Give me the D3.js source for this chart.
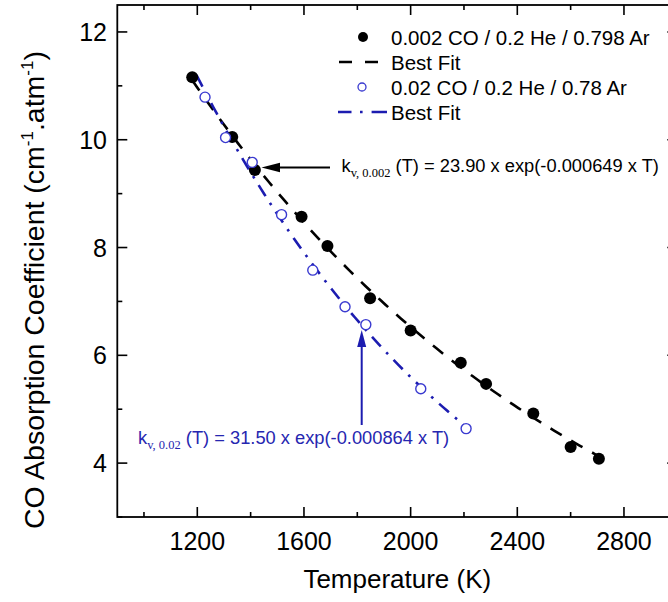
<!DOCTYPE html>
<html>
<head>
<meta charset="utf-8">
<script src="https://cdn.jsdelivr.net/npm/d3@7/dist/d3.min.js"></script>
<style>
  html, body { margin: 0; padding: 0; background: #fff; }
  svg { display: block; overflow: hidden; }
  text { font-family: "Liberation Sans", Arial, sans-serif; }
</style>
</head>
<body>
<script>
// ---------- data ----------
const tempLow = [1181, 1331, 1416, 1591, 1688, 1848, 2000, 2188, 2283, 2460, 2600, 2706];
const kLow    = [11.16, 10.05, 9.44, 8.57, 8.03, 7.06, 6.46, 5.86, 5.47, 4.92, 4.30, 4.08];
const tempHigh = [1229, 1306, 1406, 1516, 1633, 1754, 1832, 2038, 2208];
const kHigh    = [10.79, 10.04, 9.58, 8.61, 7.58, 6.90, 6.57, 5.38, 4.64];
// best-fit equations printed on the chart: k = A * exp(-B * T)
const fitLow  = [23.90, 0.000649];
const fitHigh = [31.50, 0.000864];
const fitLowRange  = [1180, 2710];
const fitHighRange = [1197, 2210];
const xTicks = [1200, 1600, 2000, 2400, 2800];
const xMinor = [1000, 1400, 1800, 2200, 2600, 3000];
const yTicks = [4, 6, 8, 10, 12];
const yMinor = [3, 5, 7, 9, 11];
const legendLabels = ["0.002 CO / 0.2 He / 0.798 Ar", "Best Fit", "0.02 CO / 0.2 He / 0.78 Ar", "Best Fit"];

// ---------- layout ----------
const W = 668, H = 602;
const L = 117.3, R = 677.3, T = 5, B = 517;
const blueLine = "#1c1cb0", blueMark = "#3a3ad0", blueText = "#2626b0";

const svg = d3.select("body").append("svg").attr("width", W).attr("height", H);

const x = d3.scaleLinear().domain([900, 3000]).range([L, R]);
const y = d3.scaleLinear().domain([3, 12.5]).range([B, T]);

// fit curves
function fitPoints(p, range) {
  const pts = [];
  const n = 80;
  for (let i = 0; i <= n; i++) {
    const t = range[0] + (range[1] - range[0]) * i / n;
    pts.push([t, p[0] * Math.exp(-p[1] * t)]);
  }
  return pts;
}
const line = d3.line().x(d => x(d[0])).y(d => y(d[1]));

svg.append("path").datum(fitPoints(fitLow, fitLowRange))
  .attr("d", line).attr("fill", "none").attr("stroke", "#000")
  .attr("stroke-width", 2.6).attr("stroke-dasharray", "13,11");
svg.append("path").datum(fitPoints(fitHigh, fitHighRange))
  .attr("d", line).attr("fill", "none").attr("stroke", blueLine)
  .attr("stroke-width", 2.6).attr("stroke-dasharray", "13,8,2.6,8");

// points
svg.append("g").selectAll("circle").data(tempLow.map((t, i) => [t, kLow[i]]))
  .join("circle").attr("cx", d => x(d[0])).attr("cy", d => y(d[1]))
  .attr("r", 6).attr("fill", "#000");
svg.append("g").selectAll("circle").data(tempHigh.map((t, i) => [t, kHigh[i]]))
  .join("circle").attr("cx", d => x(d[0])).attr("cy", d => y(d[1]))
  .attr("r", 5).attr("fill", "#fff").attr("stroke", blueMark).attr("stroke-width", 1.4);

// axes frame
const axisG = svg.append("g").attr("stroke", "#000").attr("stroke-width", 1.8);
axisG.append("rect").attr("x", L).attr("y", T).attr("width", R - L).attr("height", B - T).attr("fill", "none");

// ticks (inward, all four sides)
const tk = svg.append("g").attr("stroke", "#000").attr("stroke-width", 1.6);
xTicks.forEach(v => {
  tk.append("line").attr("x1", x(v)).attr("x2", x(v)).attr("y1", B).attr("y2", B - 10);
  tk.append("line").attr("x1", x(v)).attr("x2", x(v)).attr("y1", T).attr("y2", T + 10);
});
xMinor.forEach(v => {
  tk.append("line").attr("x1", x(v)).attr("x2", x(v)).attr("y1", B).attr("y2", B - 5);
  tk.append("line").attr("x1", x(v)).attr("x2", x(v)).attr("y1", T).attr("y2", T + 5);
});
yTicks.forEach(v => {
  tk.append("line").attr("x1", L).attr("x2", L + 10).attr("y1", y(v)).attr("y2", y(v));
  tk.append("line").attr("x1", R).attr("x2", R - 10).attr("y1", y(v)).attr("y2", y(v));
});
yMinor.forEach(v => {
  tk.append("line").attr("x1", L).attr("x2", L + 5).attr("y1", y(v)).attr("y2", y(v));
  tk.append("line").attr("x1", R).attr("x2", R - 5).attr("y1", y(v)).attr("y2", y(v));
});

// tick labels
svg.append("g").selectAll("text").data(xTicks).join("text")
  .attr("x", d => x(d)).attr("y", 550).attr("text-anchor", "middle")
  .attr("font-size", 25).attr("fill", "#000").text(d => d);
svg.append("g").selectAll("text").data(yTicks).join("text")
  .attr("x", 107).attr("y", d => y(d) + 9).attr("text-anchor", "end")
  .attr("font-size", 25).attr("fill", "#000").text(d => d);

// axis titles
svg.append("text").attr("x", (L + R) / 2).attr("y", 588).attr("text-anchor", "middle")
  .attr("font-size", 26).attr("fill", "#000").text("Temperature (K)");
const yt = svg.append("text").attr("transform", "translate(44,290) rotate(-90)")
  .attr("text-anchor", "middle").attr("font-size", 28.5).attr("fill", "#000");
yt.append("tspan").text("CO Absorption Coefficient (cm");
yt.append("tspan").attr("font-size", 17).attr("dy", -11).text("-1");
yt.append("tspan").attr("dy", 11).text(".atm");
yt.append("tspan").attr("font-size", 17).attr("dy", -11).text("-1");
yt.append("tspan").attr("dy", 11).text(")");

// legend
const lg = svg.append("g");
const rowY = [37, 62, 87, 112];
lg.append("circle").attr("cx", 363).attr("cy", rowY[0]).attr("r", 5).attr("fill", "#000");
lg.append("line").attr("x1", 339).attr("x2", 379).attr("y1", rowY[1]).attr("y2", rowY[1])
  .attr("stroke", "#000").attr("stroke-width", 2.6).attr("stroke-dasharray", "13,13");
lg.append("circle").attr("cx", 362).attr("cy", rowY[2]).attr("r", 4).attr("fill", "#fff")
  .attr("stroke", blueMark).attr("stroke-width", 1.3);
lg.append("line").attr("x1", 338).attr("x2", 387).attr("y1", rowY[3]).attr("y2", rowY[3])
  .attr("stroke", blueLine).attr("stroke-width", 2.6).attr("stroke-dasharray", "13.5,8.5,2.6,9,16");
lg.selectAll("text.l").data(legendLabels).join("text").attr("class", "l")
  .attr("x", 391).attr("y", (d, i) => rowY[i] + 7.5).attr("font-size", 20.5).attr("fill", "#000")
  .text(d => d);

// arrows
svg.append("line").attr("x1", 330).attr("x2", 278).attr("y1", 167.5).attr("y2", 167.5)
  .attr("stroke", "#000").attr("stroke-width", 2);
svg.append("path").attr("d", "M261.5,167.5 L280,162.8 L280,172.2 Z").attr("fill", "#000");
svg.append("line").attr("x1", 361.7).attr("x2", 361.7).attr("y1", 425).attr("y2", 345)
  .attr("stroke", blueLine).attr("stroke-width", 2);
svg.append("path").attr("d", "M361.7,330 L357.2,347 L366.2,347 Z").attr("fill", blueLine);

// equations
function equation(xp, yp, sub, rest, color) {
  const t = svg.append("text").attr("x", xp).attr("y", yp).attr("font-size", 18.3).attr("fill", color);
  t.append("tspan").text("k");
  t.append("tspan").attr("font-family", "'Liberation Serif', serif").attr("font-size", 12.5)
    .attr("dy", 4.5).text(sub);
  t.append("tspan").attr("dy", -4.5).text(" " + rest);
}
equation(341.5, 172.3, "v, 0.002", "(T) = 23.90 x exp(-0.000649 x T)", "#000");
equation(138, 444.3, "v, 0.02", "(T) = 31.50 x exp(-0.000864 x T)", blueText);
</script>
</body>
</html>
